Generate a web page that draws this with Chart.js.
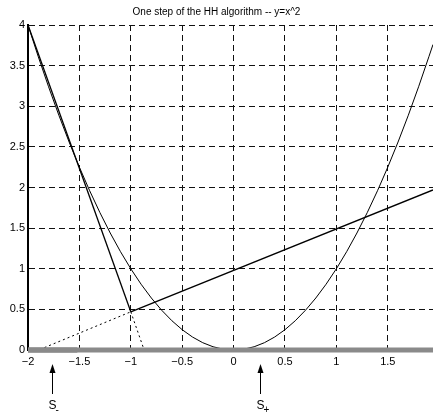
<!DOCTYPE html>
<html>
<head>
<meta charset="utf-8">
<script src="https://cdn.jsdelivr.net/npm/chart.js@4/dist/chart.umd.min.js"></script>
<style>
  html, body { margin: 0; padding: 0; background: #fff; }
  #wrap { width: 433px; height: 414px; }
</style>
</head>
<body>
<div id="wrap"><canvas id="hh" width="433" height="414"></canvas></div>
<script>
// curve y = x^2
const curveX = [-2, -1.9, -1.8, -1.7, -1.6, -1.5, -1.4, -1.3, -1.2, -1.1, -1, -0.9, -0.8, -0.7, -0.6, -0.5, -0.4, -0.3, -0.2, -0.1, 0,
  0.1, 0.2, 0.3, 0.4, 0.5, 0.6, 0.7, 0.8, 0.9, 1, 1.1, 1.2, 1.3, 1.4, 1.5, 1.6, 1.7, 1.8, 1.9, 1.94];
const curveY = [4, 3.61, 3.24, 2.89, 2.56, 2.25, 1.96, 1.69, 1.44, 1.21, 1, 0.81, 0.64, 0.49, 0.36, 0.25, 0.16, 0.09, 0.04, 0.01, 0,
  0.01, 0.04, 0.09, 0.16, 0.25, 0.36, 0.49, 0.64, 0.81, 1, 1.21, 1.44, 1.69, 1.96, 2.25, 2.56, 2.89, 3.24, 3.61, 3.76];

// steep line from (-2,4) to the kink, then dotted to the axis
const steepX = [-2, -1];
const steepY = [4, 0.47];
const steepDotX = [-1, -0.87];
const steepDotY = [0.47, 0];

// shallow line from the kink to the right edge, dotted back to the axis
const shallowX = [-1, 1.94];
const shallowY = [0.47, 1.97];
const shallowDotX = [-1.84, -1];
const shallowDotY = [0.03, 0.47];

// bottom band and the darker interval on it
const baseX = [-2, 1.94];
const baseY = [0, 0];
const bandX = [-2, -1.52];
const bandY = [0, 0];

// markers under the axis
const markX = [-1.77, 0.26];
const markSub = ["-", "+"];

const xTicks = [-2, -1.5, -1, -0.5, 0, 0.5, 1, 1.5];
const yTicks = [0, 0.5, 1, 1.5, 2, 2.5, 3, 3.5, 4];

const pts = (xs, ys) => xs.map((x, i) => ({ x: x, y: ys[i] }));

const lineSet = (data, color, width, dash, noClip) => ({
  data: data,
  showLine: true,
  borderColor: color,
  borderWidth: width,
  borderDash: dash || [],
  pointRadius: 0,
  fill: false,
  tension: 0,
  clip: noClip ? false : undefined
});

const FONT = "'Liberation Sans', Arial, sans-serif";
const fmt = v => (v < 0 ? "\u2212" + String(-v) : String(v));

const markers = {
  id: "markers",
  afterDraw(chart) {
    const ctx = chart.ctx;
    const xs = chart.scales.x;
    ctx.save();
    ctx.strokeStyle = "#000";
    ctx.fillStyle = "#000";
    ctx.lineWidth = 1;
    markX.forEach((v, i) => {
      const px = Math.round(xs.getPixelForValue(v)) + 0.5;
      ctx.beginPath();
      ctx.moveTo(px, 368);
      ctx.lineTo(px, 394);
      ctx.stroke();
      ctx.beginPath();
      ctx.moveTo(px, 364);
      ctx.lineTo(px - 3, 373);
      ctx.lineTo(px + 3, 373);
      ctx.closePath();
      ctx.fill();
      ctx.font = "12px " + FONT;
      ctx.textAlign = "left";
      ctx.textBaseline = "alphabetic";
      ctx.fillText("S", px - 4, 409);
      ctx.font = "10px " + FONT;
      ctx.fillText(markSub[i], px + 3, 413);
    });
    ctx.restore();
  }
};

new Chart(document.getElementById("hh"), {
  type: "scatter",
  data: {
    datasets: [
      lineSet(pts(baseX, baseY), "#8a8a8a", 5, null, true),
      lineSet(pts(baseX, baseY), "#e0e0e0", 1, null, true),
      lineSet(pts(bandX, bandY), "#6a6a6a", 5, null, true),
      lineSet(pts(curveX, curveY), "#000", 1),
      lineSet(pts(steepX, steepY), "#000", 1.3),
      lineSet(pts(steepDotX, steepDotY), "#000", 1, [2, 3]),
      lineSet(pts(shallowX, shallowY), "#000", 1.3),
      lineSet(pts(shallowDotX, shallowDotY), "#000", 1, [2, 3])
    ]
  },
  options: {
    responsive: false,
    animation: false,
    plugins: {
      legend: { display: false },
      tooltip: { enabled: false },
      title: {
        display: true,
        text: "One step of the HH algorithm -- y=x^2",
        color: "#000",
        font: { family: FONT, size: 10, weight: "normal" },
        padding: { top: 6, bottom: 7 }
      }
    },
    scales: {
      x: {
        type: "linear",
        min: -2,
        max: 1.94,
        afterBuildTicks: s => { s.ticks = xTicks.map(v => ({ value: v })); },
        afterFit: s => { s.height = 64; },
        ticks: {
          color: "#000",
          padding: 5,
          maxRotation: 0,
          font: { family: FONT, size: 11 },
          callback: v => fmt(v)
        },
        grid: { color: "#111", lineWidth: 1, drawTicks: false },
        border: { display: false, dash: [6, 4] }
      },
      y: {
        type: "linear",
        min: 0,
        max: 4,
        afterBuildTicks: s => { s.ticks = yTicks.map(v => ({ value: v })); },
        afterFit: s => { s.width = 28; },
        ticks: {
          color: "#000",
          padding: 3,
          font: { family: FONT, size: 11 },
          callback: v => fmt(v)
        },
        grid: { color: "#111", lineWidth: 1, drawTicks: false },
        border: { display: true, color: "#000", width: 2, dash: [6, 4] }
      }
    }
  },
  plugins: [markers]
});
</script>
</body>
</html>
